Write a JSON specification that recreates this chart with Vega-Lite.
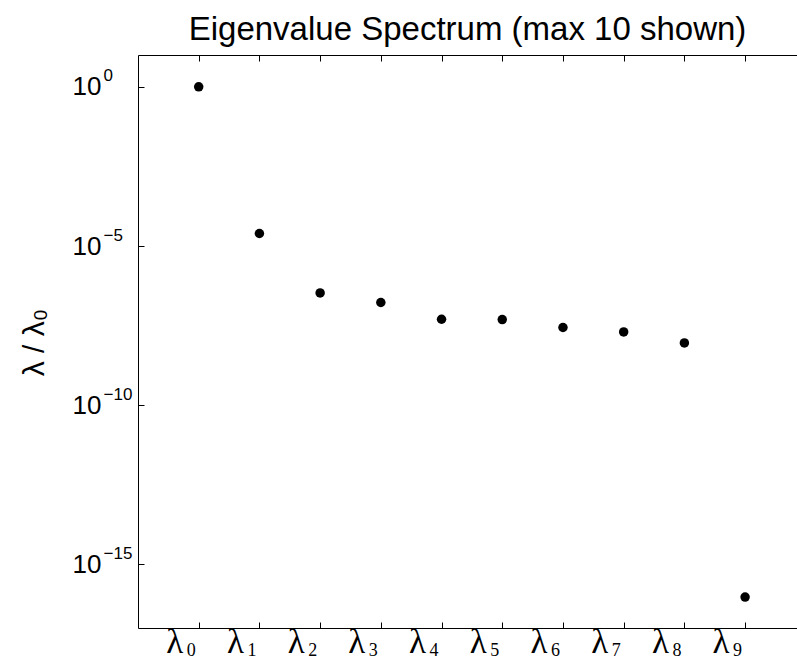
{
  "$schema": "https://vega.github.io/schema/vega-lite/v6.json",
  "autosize": "none",
  "padding": {"left": 138, "top": 55, "right": 0, "bottom": 35},
  "width": 659,
  "height": 573,
  "background": "white",
  "title": {"text": "Eigenvalue Spectrum (max 10 shown)", "font": "Liberation Sans", "fontSize": 33, "fontWeight": "normal", "color": "black", "anchor": "middle", "baseline": "alphabetic", "offset": 14, "dy": 32},
  "config": {
    "view": {"stroke": null},
    "axis": {"grid": false, "domainColor": "black", "tickColor": "black", "labelColor": "black", "titleColor": "black", "domainWidth": 1, "tickWidth": 1, "labelOverlap": false, "labelFlush": false, "labelBound": false}
  },
  "data": {"values": [
    {"k": 0, "ratio": 1},
    {"k": 1, "ratio": 2.47e-5},
    {"k": 2, "ratio": 3.36e-7},
    {"k": 3, "ratio": 1.68e-7},
    {"k": 4, "ratio": 5.0e-8},
    {"k": 5, "ratio": 4.9e-8},
    {"k": 6, "ratio": 2.75e-8},
    {"k": 7, "ratio": 2.0e-8},
    {"k": 8, "ratio": 9.0e-9},
    {"k": 9, "ratio": 9.4e-17}
  ]},
  "layer": [
    {
      "mark": {"type": "point", "filled": true, "size": 90, "color": "black", "opacity": 1},
      "encoding": {
        "x": {"field": "k", "type": "quantitative", "scale": {"domain": [-1, 9.855], "nice": false, "zero": false},
          "axis": {"orient": "bottom", "values": [0,1,2,3,4,5,6,7,8,9], "labels": false, "tickSize": -6, "title": null, "domain": true}},
        "y": {"field": "ratio", "type": "quantitative", "scale": {"type": "log", "domain": [1e-17, 10], "nice": false},
          "axis": {"orient": "left", "values": [1, 1e-5, 1e-10, 1e-15], "labels": false, "tickSize": -6, "domain": true,
            "title": "λ / λ₀", "titleFont": "Liberation Sans", "titleFontSize": 30, "titleFontWeight": "normal", "titleAngle": -90, "titleX": -104, "titleY": 287, "titleAlign": "center", "titleBaseline": "middle"}}
      }
    },
    {
      "mark": {"type": "point", "filled": true, "opacity": 0},
      "encoding": {
        "x": {"field": "k", "type": "quantitative", "scale": {"domain": [-1, 9.855], "nice": false, "zero": false},
          "axis": {"orient": "bottom", "values": [0,1,2,3,4,5,6,7,8,9], "domain": false, "ticks": false, "title": null, "labelExpr": "'λ'", "labelFont": "Liberation Serif", "labelFontSize": 35, "labelAlign": "right", "labelOffset": -16, "labelBaseline": "alphabetic", "labelPadding": 24}},
        "y": {"field": "ratio", "type": "quantitative", "scale": {"type": "log", "domain": [1e-17, 10], "nice": false},
          "axis": {"orient": "left", "values": [1, 1e-5, 1e-10, 1e-15], "domain": false, "ticks": false, "title": null, "labelExpr": "'10'", "labelFont": "Liberation Sans", "labelFontSize": 26, "labelAlign": "right", "labelBaseline": "middle", "labelPadding": 37}}
      }
    },
    {
      "mark": {"type": "point", "filled": true, "opacity": 0},
      "encoding": {
        "x": {"field": "k", "type": "quantitative", "scale": {"domain": [-1, 9.855], "nice": false, "zero": false},
          "axis": {"orient": "bottom", "values": [0,1,2,3,4,5,6,7,8,9], "domain": false, "ticks": false, "title": null, "format": "d", "labelFont": "Liberation Serif", "labelFontSize": 18, "labelAlign": "center", "labelOffset": -8, "labelBaseline": "alphabetic", "labelPadding": 27}},
        "y": {"field": "ratio", "type": "quantitative", "scale": {"type": "log", "domain": [1e-17, 10], "nice": false},
          "axis": {"orient": "left", "values": [1, 1e-5, 1e-10, 1e-15], "domain": false, "ticks": false, "title": null, "labelExpr": "datum.value == 1 ? '0' : '−' + format(-round(log(datum.value) / LN10), 'd')", "labelFont": "Liberation Sans", "labelFontSize": 17, "labelAlign": "left", "labelBaseline": "middle", "labelOffset": -11, "labelPadding": 35}}
      }
    },
    {
      "mark": {"type": "point", "filled": true, "opacity": 0},
      "encoding": {
        "x": {"field": "k", "type": "quantitative", "scale": {"domain": [-1, 9.855], "nice": false, "zero": false},
          "axis": {"orient": "top", "values": [0,1,2,3,4,5,6,7,8,9], "labels": false, "tickSize": -6, "title": null, "domain": true}},
        "y": {"field": "ratio", "type": "quantitative", "scale": {"type": "log", "domain": [1e-17, 10], "nice": false}, "axis": null}
      }
    }
  ],
  "resolve": {"axis": {"x": "independent", "y": "independent"}}
}
